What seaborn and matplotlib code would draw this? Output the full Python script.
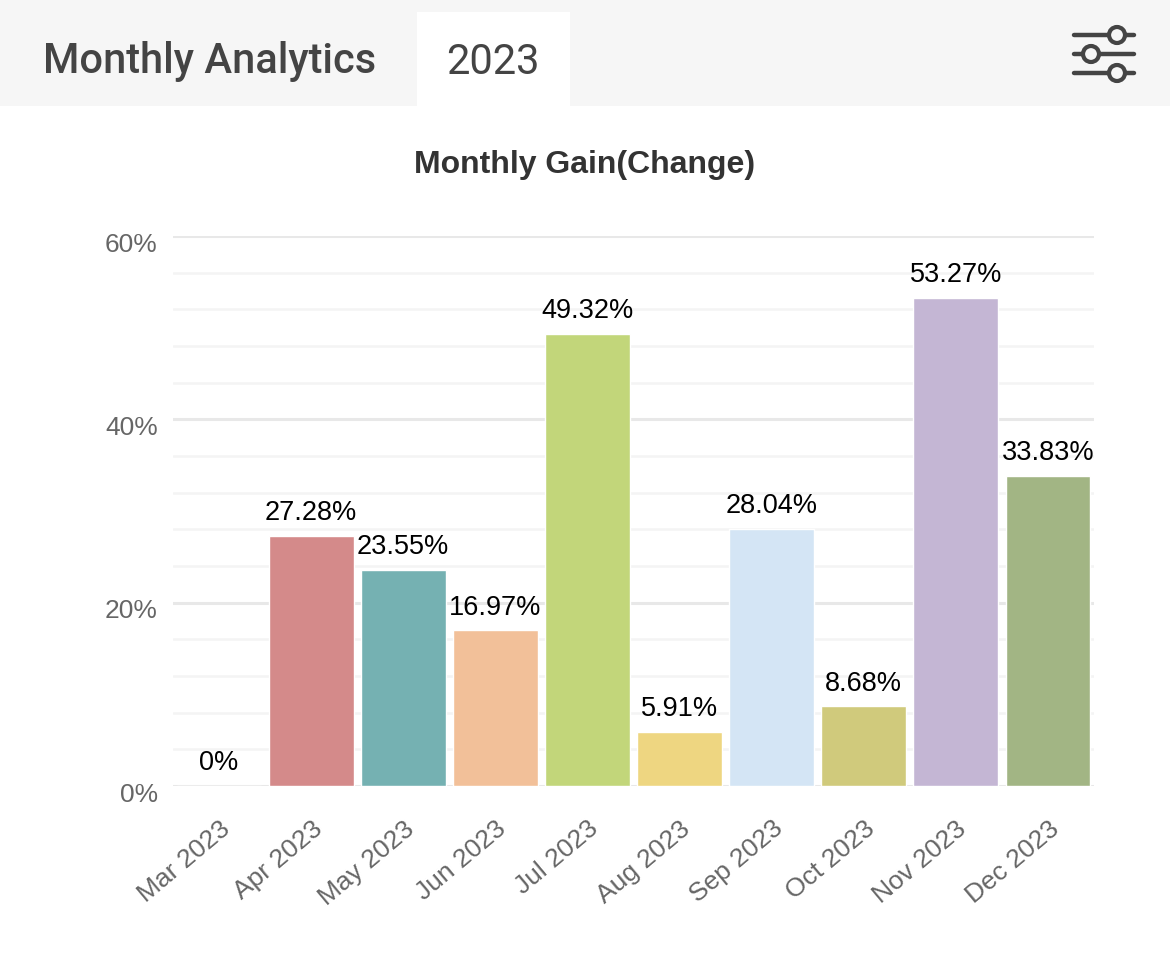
import matplotlib
matplotlib.use('Agg')
import matplotlib.pyplot as plt
from matplotlib.patches import Rectangle, Circle
from matplotlib.lines import Line2D
from matplotlib.transforms import ScaledTranslation
import pandas as pd
import seaborn as sns

# Chart data
months = ['Mar 2023', 'Apr 2023', 'May 2023', 'Jun 2023', 'Jul 2023',
          'Aug 2023', 'Sep 2023', 'Oct 2023', 'Nov 2023', 'Dec 2023']
gains = [0, 27.28, 23.55, 16.97, 49.32, 5.91, 28.04, 8.68, 53.27, 33.83]
value_labels = ['0%', '27.28%', '23.55%', '16.97%', '49.32%',
                '5.91%', '28.04%', '8.68%', '53.27%', '33.83%']
bar_colors = ['#e0e0e0', '#d48a8a', '#75b1b2', '#f2c099', '#c2d67a',
              '#eed681', '#d4e5f5', '#d0ca7c', '#c4b6d4', '#a2b584']
y_ticks = [0, 20, 40, 60]

sns.set_style('white')
plt.rcParams['font.family'] = ['Liberation Sans', 'DejaVu Sans']

df = pd.DataFrame({'month': months, 'gain': gains})

fig = plt.figure(figsize=(11.7, 9.59), dpi=100)
fig.patch.set_facecolor('white')

# header bar
fig.patches.append(Rectangle((0, 1 - 106 / 959), 1, 106 / 959, transform=fig.transFigure,
                             facecolor='#f6f6f6', edgecolor='none', zorder=0))
fig.patches.append(Rectangle((417 / 1170, 1 - 106 / 959), 153 / 1170, 94 / 959,
                             transform=fig.transFigure, facecolor='white',
                             edgecolor='none', zorder=1))
fig.text(43 / 1170, 1 - 62 / 959, 'Monthly Analytics', fontsize=30, color='#444444',
         family=['Roboto', 'DejaVu Sans'], fontweight='medium', va='center', ha='left')
fig.text(493 / 1170, 1 - 62 / 959, '2023', fontsize=30, color='#444444',
         family=['Roboto', 'DejaVu Sans'], va='center', ha='center')

# filter icon
for ly, cx in [(35, 1117), (54, 1091), (73, 1117)]:
    yy = 1 - ly / 959
    fig.lines.append(Line2D([1074 / 1170, 1134 / 1170], [yy, yy], transform=fig.transFigure,
                            color='#444444', linewidth=3.2, zorder=2))
    fig.patches.append(Circle((cx, 959 - ly), 8, transform=None,
                              facecolor='#f6f6f6', edgecolor='#444444',
                              linewidth=3.0, zorder=3))

fig.text(0.5, 1 - 165 / 959, 'Monthly Gain(Change)', fontsize=23, fontweight='bold',
         color='#333333', ha='center', va='center')

ax = fig.add_axes([173 / 1170, 1 - 786 / 959, 921 / 1170, 550 / 959])
sns.barplot(data=df, x='month', y='gain', hue='month', palette=bar_colors,
            width=0.92, legend=False, ax=ax, saturation=1)

for container, lab in zip(ax.containers, value_labels):
    ax.bar_label(container, labels=[lab], padding=7, fontsize=19.5, color='black')

ax.set_ylim(0, 60)
ax.set_xlim(-0.5, len(months) - 0.5)
ax.set_yticks(y_ticks)
ax.set_yticklabels([f'{t}%' for t in y_ticks])
ax.set_yticks([v for v in range(4, 60, 4) if v % 20 != 0], minor=True)
ax.grid(axis='y', which='major', color='#e8e8e8', linewidth=2.2, zorder=0)
ax.grid(axis='y', which='minor', color='#f4f4f4', linewidth=1.8, zorder=0)
ax.set_axisbelow(True)
for s in ax.spines.values():
    s.set_visible(False)
ax.tick_params(axis='y', which='both', length=0, pad=11, labelsize=19, labelcolor='#666666')
ax.tick_params(axis='x', length=0, pad=22, labelsize=19, labelcolor='#666666')
plt.setp(ax.get_xticklabels(), rotation=40, ha='right', rotation_mode='anchor')
for lab in ax.get_yticklabels():
    lab.set_transform(lab.get_transform() + ScaledTranslation(0, -6 / 100, fig.dpi_scale_trans))
ax.set_xlabel('')
ax.set_ylabel('')

fig.savefig('out.png', dpi=100)
